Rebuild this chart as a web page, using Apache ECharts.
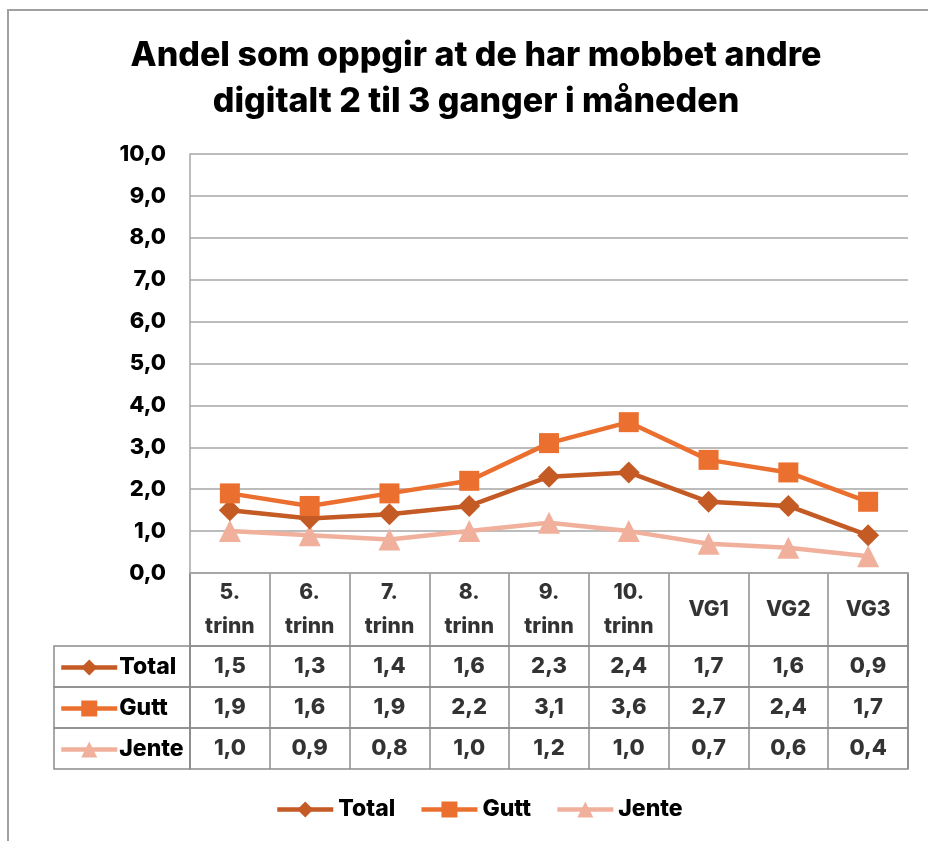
<!DOCTYPE html>
<html>
<head>
<meta charset="utf-8">
<script src="https://cdn.jsdelivr.net/npm/echarts@6/dist/echarts.min.js"></script>
<style>
  html, body { margin: 0; padding: 0; background: #fff; }
  #chart { width: 928px; height: 841px; }
</style>
</head>
<body>
<div id="chart"></div>
<script>
// data
var categories = ['5.\ntrinn', '6.\ntrinn', '7.\ntrinn', '8.\ntrinn', '9.\ntrinn', '10.\ntrinn', 'VG1', 'VG2', 'VG3'];
var seriesNames = ['Total', 'Gutt', 'Jente'];
var total = [1.5, 1.3, 1.4, 1.6, 2.3, 2.4, 1.7, 1.6, 0.9];
var gutt  = [1.9, 1.6, 1.9, 2.2, 3.1, 3.6, 2.7, 2.4, 1.7];
var jente = [1.0, 0.9, 0.8, 1.0, 1.2, 1.0, 0.7, 0.6, 0.4];
var yMin = 0, yMax = 10, yStep = 1;

var colors = ['#c45a24', '#eb7030', '#f0b09b'];
var symbols = ['diamond', 'rect', 'triangle'];
var gridColor = '#a6a6a6';
var tableColor = '#8c8c8c';
var font = 'Inter, "Noto Sans", sans-serif';
var fw = 800;

var myChart = echarts.init(document.getElementById('chart'));

function fmt(v) { return v.toFixed(1).replace('.', ','); }

// layout
var plotLeft = 190, plotRight = 20, plotTop = 154, plotBottom = 573;
var headTop = 573, headH = 73;
var rowTop = 646, rowH = 41;
var rowHeadLeft = 54;

var values = [total, gutt, jente];

var grids = [
    {left: plotLeft, right: plotRight, top: plotTop, height: plotBottom - plotTop},
    {left: plotLeft, right: plotRight, top: headTop, height: headH, show: true, borderColor: tableColor, borderWidth: 1.5}
];
var xAxes = [
    {type: 'category', gridIndex: 0, data: categories, boundaryGap: true,
     axisLine: {lineStyle: {color: gridColor, width: 1.5}}, axisTick: {show: false}, axisLabel: {show: false}},
    {type: 'category', gridIndex: 1, data: categories, boundaryGap: true,
     axisLine: {show: false}, axisTick: {show: false}, axisLabel: {show: false},
     splitLine: {show: true, interval: 0, lineStyle: {color: tableColor, width: 1.5}}}
];
var yAxes = [
    {type: 'value', gridIndex: 0, min: yMin, max: yMax, interval: yStep,
     axisLine: {show: true, lineStyle: {color: gridColor, width: 1.5}},
     axisTick: {show: false},
     splitLine: {lineStyle: {color: gridColor, width: 1.5}},
     axisLabel: {formatter: fmt, color: '#000', fontWeight: fw, fontSize: 22, fontFamily: font, margin: 24}},
    {type: 'value', gridIndex: 1, min: 0, max: 1, show: false}
];

var series = [];
seriesNames.forEach(function (name, k) {
    series.push({
        name: name, type: 'line', xAxisIndex: 0, yAxisIndex: 0,
        data: values[k],
        symbol: symbols[k], symbolSize: k === 1 ? 20 : 22,
        lineStyle: {color: colors[k], width: 4.5},
        itemStyle: {color: colors[k]},
        z: 3 + (k === 2 ? 0 : k === 0 ? 1 : 2)
    });
});

// header row of the data table
series.push({
    type: 'scatter', xAxisIndex: 1, yAxisIndex: 1, symbolSize: 0, silent: true,
    data: categories.map(function (c, i) { return [i, 0.5, c]; }),
    label: {show: true, position: 'inside', color: '#000', fontWeight: fw, fontSize: 21,
            fontFamily: font, lineHeight: 34, formatter: function (p) { return p.value[2]; }}
});

// value rows of the data table
seriesNames.forEach(function (name, k) {
    var gi = grids.length;
    grids.push({left: plotLeft, right: plotRight, top: rowTop + k * rowH, height: rowH,
                show: true, borderColor: tableColor, borderWidth: 1.5});
    xAxes.push({type: 'category', gridIndex: gi, data: categories, boundaryGap: true,
                axisLine: {show: false}, axisTick: {show: false}, axisLabel: {show: false},
                splitLine: {show: true, interval: 0, lineStyle: {color: tableColor, width: 1.5}}});
    yAxes.push({type: 'value', gridIndex: gi, min: 0, max: 1, show: false});
    series.push({
        type: 'scatter', xAxisIndex: gi, yAxisIndex: gi, symbolSize: 0, silent: true,
        data: values[k].map(function (v, i) { return [i, 0.5, v]; }),
        label: {show: true, position: 'inside', color: '#000', fontWeight: fw, fontSize: 22,
                fontFamily: font, formatter: function (p) { return fmt(p.value[2]); }}
    });
});

// row-header cells of the table
var cellRects = seriesNames.map(function (n, k) {
    return {type: 'rect', shape: {x: rowHeadLeft, y: rowTop + k * rowH, width: plotLeft - rowHeadLeft, height: rowH},
            style: {fill: 'none', stroke: tableColor, lineWidth: 1.5}, z: 0};
});

var legendText = {fontSize: 23, fontWeight: fw, color: '#000', fontFamily: font, lineHeight: 20};

var option = {
    backgroundColor: '#fff',
    animation: false,
    title: {
        text: 'Andel som oppgir at de har mobbet andre\ndigitalt 2 til 3 ganger i måneden',
        left: 471, top: 28, textAlign: 'center',
        textStyle: {fontSize: 34, fontWeight: fw, color: '#000', fontFamily: font, lineHeight: 46}
    },
    legend: [
        {data: seriesNames, bottom: 15, left: 270, itemWidth: 56, itemHeight: 20, itemGap: 24,
         lineStyle: {width: 4.5}, textStyle: legendText},
        {data: seriesNames, orient: 'vertical', left: rowHeadLeft + 5, top: rowTop + 10,
         itemWidth: 56, itemHeight: 20, itemGap: 18, selectedMode: false, padding: 0,
         lineStyle: {width: 4.5}, textStyle: echarts.util.extend({padding: [0, 0, 0, -3]}, legendText)}
    ],
    grid: grids,
    xAxis: xAxes,
    yAxis: yAxes,
    series: series,
    graphic: [
        {type: 'polyline', shape: {points: [[8, 841], [8, 10], [928, 10]]},
         style: {stroke: '#a0a0a0', lineWidth: 2, fill: 'none'}},
        {type: 'group', children: cellRects}
    ]
};

myChart.setOption(option);
</script>
</body>
</html>
